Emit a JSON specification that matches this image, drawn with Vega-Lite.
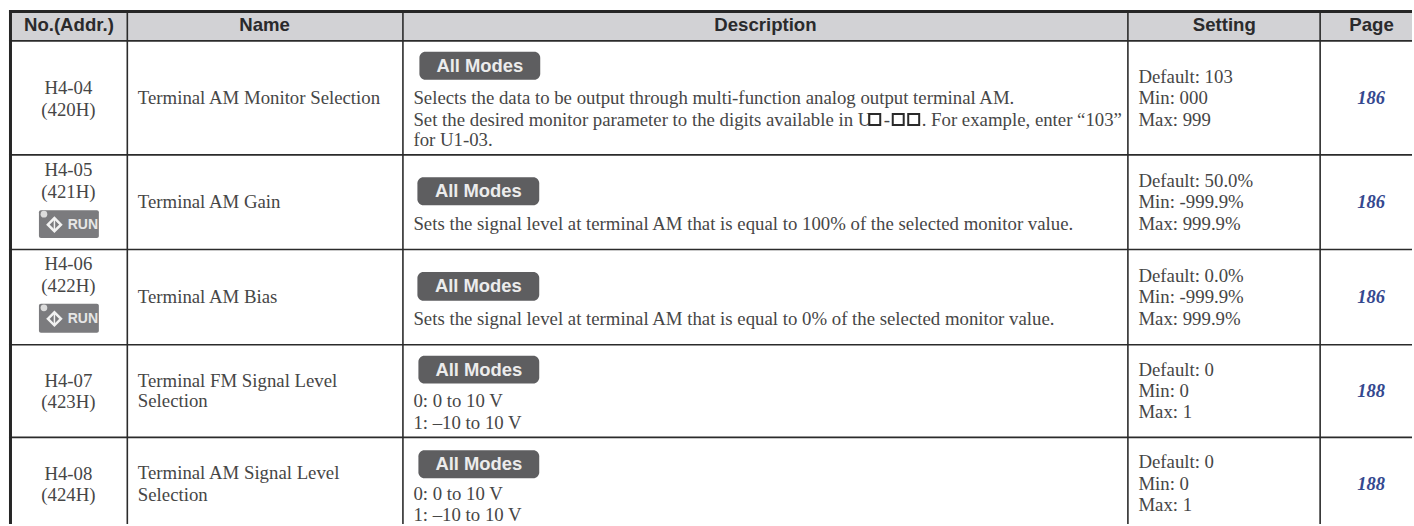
{"$schema":"https://vega.github.io/schema/vega-lite/v6.json","width":1414,"height":526,"padding":0,"autosize":{"type":"fit","contains":"padding"},"background":"#ffffff","config":{"view":{"stroke":null}},
"datasets":{
"head":[{"x":69,"y":25,"t":"No.(Addr.)"},{"x":265,"y":25,"t":"Name"},{"x":766.5,"y":25,"t":"Description"},{"x":1226,"y":25,"t":"Setting"},{"x":1373.5,"y":25,"t":"Page"}],
"serifC":[{"x":68.5,"y":88,"t":"H4-04"},{"x":68.5,"y":110,"t":"(420H)"},{"x":68.5,"y":171,"t":"H4-05"},{"x":68.5,"y":193,"t":"(421H)"},{"x":68.5,"y":265,"t":"H4-06"},{"x":68.5,"y":287,"t":"(422H)"},{"x":68.5,"y":382,"t":"H4-07"},{"x":68.5,"y":404,"t":"(423H)"},{"x":68.5,"y":476,"t":"H4-08"},{"x":68.5,"y":497,"t":"(424H)"}],
"serifL":[{"x":138,"y":98,"t":"Terminal AM Monitor Selection"},{"x":138,"y":203,"t":"Terminal AM Gain"},{"x":138,"y":298,"t":"Terminal AM Bias"},{"x":138,"y":382,"t":"Terminal FM Signal Level"},{"x":138,"y":403,"t":"Selection"},{"x":138,"y":475,"t":"Terminal AM Signal Level"},{"x":138,"y":497,"t":"Selection"},
{"x":414,"y":98,"t":"Selects the data to be output through multi-function analog output terminal AM."},{"x":414,"y":120,"t":"Set the desired monitor parameter to the digits available in U"},{"x":885,"y":120,"t":"-"},{"x":923,"y":120,"t":". For example, enter “103”"},{"x":414,"y":141,"t":"for U1-03."},{"x":414,"y":225,"t":"Sets the signal level at terminal AM that is equal to 100% of the selected monitor value."},{"x":414,"y":320,"t":"Sets the signal level at terminal AM that is equal to 0% of the selected monitor value."},{"x":414,"y":403,"t":"0: 0 to 10 V"},{"x":414,"y":425,"t":"1: –10 to 10 V"},{"x":414,"y":496,"t":"0: 0 to 10 V"},{"x":414,"y":517,"t":"1: –10 to 10 V"},
{"x":1140,"y":77,"t":"Default: 103"},{"x":1140,"y":98,"t":"Min: 000"},{"x":1140,"y":120,"t":"Max: 999"},{"x":1140,"y":182,"t":"Default: 50.0%"},{"x":1140,"y":203,"t":"Min: -999.9%"},{"x":1140,"y":225,"t":"Max: 999.9%"},{"x":1140,"y":277,"t":"Default: 0.0%"},{"x":1140,"y":298,"t":"Min: -999.9%"},{"x":1140,"y":320,"t":"Max: 999.9%"},{"x":1140,"y":371,"t":"Default: 0"},{"x":1140,"y":392,"t":"Min: 0"},{"x":1140,"y":414,"t":"Max: 1"},{"x":1140,"y":464,"t":"Default: 0"},{"x":1140,"y":486,"t":"Min: 0"},{"x":1140,"y":507,"t":"Max: 1"}],
"page":[{"x":1373,"y":98,"t":"186"},{"x":1373,"y":203,"t":"186"},{"x":1373,"y":298,"t":"186"},{"x":1373,"y":392,"t":"188"},{"x":1373,"y":486,"t":"188"}],
"modes":[{"x":420,"x2":541,"y":52,"y2":80,"cx":480.5,"cy":66},{"x":418,"x2":540,"y":178,"y2":206,"cx":479,"cy":192},{"x":418,"x2":540,"y":273,"y2":302,"cx":479,"cy":287.5},{"x":419,"x2":540,"y":357,"y2":385,"cx":479.5,"cy":371},{"x":419,"x2":540,"y":452,"y2":480,"cx":479.5,"cy":466}],
"run":[{"x":39,"x2":99,"y":211,"y2":239,"cx":83,"cy":225.5,"dx":54.5,"ox":44,"oy":215,"ty":220,"ty2":231},{"x":39,"x2":99,"y":305,"y2":334,"cx":83,"cy":320,"dx":54.5,"ox":44,"oy":309,"ty":314.5,"ty2":325.5}],
"squares":[{"x":876,"y":120},{"x":899.5,"y":120},{"x":915,"y":120}],
"thin":[{"x":9,"x2":1414,"y":41,"y2":41},{"x":9,"x2":1414,"y":155.5,"y2":155.5},{"x":9,"x2":1414,"y":250.5,"y2":250.5},{"x":9,"x2":1414,"y":346,"y2":346},{"x":9,"x2":1414,"y":439,"y2":439},{"x":127.5,"x2":127.5,"y":11,"y2":526},{"x":403.5,"x2":403.5,"y":11,"y2":526},{"x":1129.5,"x2":1129.5,"y":11,"y2":526},{"x":1322,"x2":1322,"y":11,"y2":526}],
"thick":[{"x":9,"x2":1414,"y":11.5,"y2":11.5},{"x":10.5,"x2":10.5,"y":10,"y2":526}],
"band":[{"x":10,"x2":1414,"y":12,"y2":41}]},
"layer":[
{"data":{"name":"band"},"mark":{"type":"rect","color":"#d2d2d5"},"encoding":{"x":{"field":"x","type":"quantitative","scale":{"domain":[0,1414],"nice":false,"zero":false},"axis":null},"x2":{"field":"x2"},"y":{"field":"y","type":"quantitative","scale":{"domain":[526,0],"nice":false,"zero":false},"axis":null},"y2":{"field":"y2"}}},
{"data":{"name":"thin"},"mark":{"type":"rule","color":"#2b2b2b","strokeWidth":1.6},"encoding":{"x":{"field":"x","type":"quantitative","axis":null},"x2":{"field":"x2"},"y":{"field":"y","type":"quantitative","axis":null},"y2":{"field":"y2"}}},
{"data":{"name":"thick"},"mark":{"type":"rule","color":"#262626","strokeWidth":3},"encoding":{"x":{"field":"x","type":"quantitative","axis":null},"x2":{"field":"x2"},"y":{"field":"y","type":"quantitative","axis":null},"y2":{"field":"y2"}}},
{"data":{"name":"head"},"mark":{"type":"text","font":"Liberation Sans","fontWeight":"bold","fontSize":18.6,"color":"#2a2a2c","align":"center","baseline":"middle"},"encoding":{"x":{"field":"x","type":"quantitative","axis":null},"y":{"field":"y","type":"quantitative","axis":null},"text":{"field":"t"}}},
{"data":{"name":"serifC"},"mark":{"type":"text","font":"Liberation Serif","fontSize":18.8,"color":"#464646","align":"center","baseline":"middle"},"encoding":{"x":{"field":"x","type":"quantitative","axis":null},"y":{"field":"y","type":"quantitative","axis":null},"text":{"field":"t"}}},
{"data":{"name":"serifL"},"mark":{"type":"text","font":"Liberation Serif","fontSize":18.8,"color":"#464646","align":"left","baseline":"middle"},"encoding":{"x":{"field":"x","type":"quantitative","axis":null},"y":{"field":"y","type":"quantitative","axis":null},"text":{"field":"t"}}},
{"data":{"name":"squares"},"mark":{"type":"point","shape":"square","filled":false,"stroke":"#2a2a2a","strokeWidth":2,"size":120,"opacity":1},"encoding":{"x":{"field":"x","type":"quantitative","axis":null},"y":{"field":"y","type":"quantitative","axis":null}}},
{"data":{"name":"page"},"mark":{"type":"text","font":"Liberation Serif","fontSize":18.5,"fontWeight":"bold","fontStyle":"italic","color":"#34488f","align":"center","baseline":"middle"},"encoding":{"x":{"field":"x","type":"quantitative","axis":null},"y":{"field":"y","type":"quantitative","axis":null},"text":{"field":"t"}}},
{"data":{"name":"modes"},"mark":{"type":"rect","color":"#5e5e60","cornerRadius":6},"encoding":{"x":{"field":"x","type":"quantitative","axis":null},"x2":{"field":"x2"},"y":{"field":"y","type":"quantitative","axis":null},"y2":{"field":"y2"}}},
{"data":{"name":"modes"},"mark":{"type":"text","font":"Liberation Sans","fontWeight":"bold","fontSize":18.4,"color":"#ececec","align":"center","baseline":"middle","text":"All Modes"},"encoding":{"x":{"field":"cx","type":"quantitative","axis":null},"y":{"field":"cy","type":"quantitative","axis":null}}},
{"data":{"name":"run"},"mark":{"type":"rect","color":"#7b7b7e","cornerRadius":2},"encoding":{"x":{"field":"x","type":"quantitative","axis":null},"x2":{"field":"x2"},"y":{"field":"y","type":"quantitative","axis":null},"y2":{"field":"y2"}}},
{"data":{"name":"run"},"mark":{"type":"text","font":"Liberation Sans","fontWeight":"bold","fontSize":14,"color":"#e6e6e6","align":"center","baseline":"middle","text":"RUN"},"encoding":{"x":{"field":"cx","type":"quantitative","axis":null},"y":{"field":"cy","type":"quantitative","axis":null}}},
{"data":{"name":"run"},"mark":{"type":"point","shape":"diamond","filled":false,"stroke":"#f2f2f2","strokeWidth":2.5,"size":170,"opacity":1},"encoding":{"x":{"field":"dx","type":"quantitative","axis":null},"y":{"field":"cy","type":"quantitative","axis":null}}},
{"data":{"name":"run"},"mark":{"type":"rule","color":"#f2f2f2","strokeWidth":1.5},"encoding":{"x":{"field":"dx","type":"quantitative","axis":null},"y":{"field":"ty","type":"quantitative","axis":null},"y2":{"field":"ty2"}}},
{"data":{"name":"run"},"mark":{"type":"point","shape":"circle","filled":true,"color":"#dcdcdc","size":45,"opacity":1},"encoding":{"x":{"field":"ox","type":"quantitative","axis":null},"y":{"field":"oy","type":"quantitative","axis":null}}}
]}
